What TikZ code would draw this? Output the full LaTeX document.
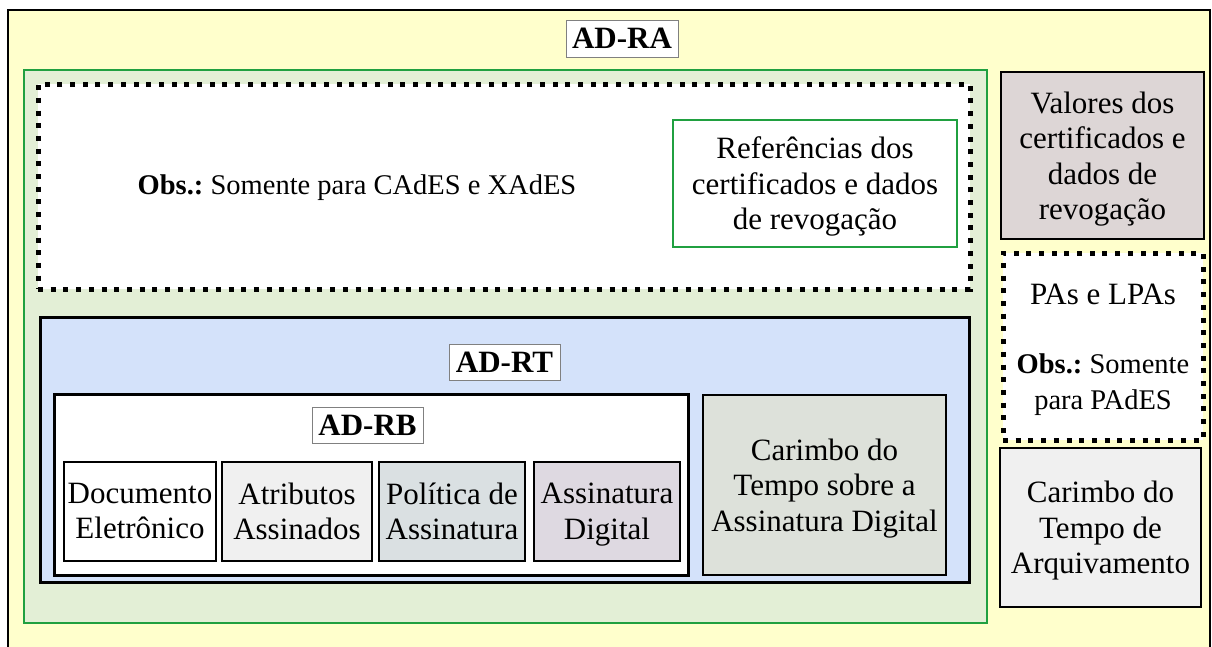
\documentclass[tikz,border=0pt]{standalone}
\usepackage{fontspec}
\setmainfont{Liberation Serif}
\frenchspacing
\definecolor{outerfill}{HTML}{FFFFCC}
\definecolor{greenfill}{HTML}{E3EFD6}
\definecolor{greenline}{HTML}{20A040}
\definecolor{bluefill}{HTML}{D4E2FA}
\definecolor{valfill}{HTML}{DDD6D6}
\definecolor{lightgray}{HTML}{F0F0F0}
\definecolor{polfill}{HTML}{DAE0E2}
\definecolor{assfill}{HTML}{DED9E1}
\definecolor{carfill}{HTML}{DDE1DA}
\definecolor{labline}{HTML}{808080}
\newcommand{\obsfont}{\fontsize{28.5}{33}\selectfont}
\tikzset{
  box/.style={draw, rectangle, inner sep=0pt, align=center, text depth=0pt, font=\fontsize{31}{35.5}\selectfont},
  dotbox/.style={box, line width=5pt, dash pattern=on 5pt off 7.7pt, fill=white},
  label box/.style={box, draw=labline, line width=1pt, fill=white, font=\fontsize{31}{35.5}\selectfont\bfseries},
}
\begin{document}
\begin{tikzpicture}[x=1pt,y=-1pt]
\useasboundingbox (0,0) rectangle (1212,646);
\node[box, line width=2.5pt, fill=outerfill, minimum width=1202pt, minimum height=650pt] (outer) at (609,335) {};
\node[label box, minimum width=112pt, minimum height=37pt] (adra) at (622,38.5) {AD-RA};
\node[box, draw=greenline, line width=2.5pt, fill=greenfill, minimum width=963pt, minimum height=553pt] (green) at (505.5,346.5) {};
\node[dotbox, minimum width=932pt, minimum height=205pt] (dotted) at (504,186.5) {};
\node[box, draw=none, text depth=, font=\obsfont] (obs) at (357,188) {\textbf{Obs.:} Somente para CAdES e XAdES};
\node[box, draw=greenline, line width=1.5pt, fill=white, minimum width=284pt, minimum height=127pt] (ref) at (815,183.5) {Referências dos\\certificados e dados\\de revogação};
\node[box, line width=2pt, fill=valfill, minimum width=203pt, minimum height=167pt] (val) at (1102.5,155.5) {Valores dos\\certificados e\\dados de\\revogação};
\node[dotbox, minimum width=200pt, minimum height=187pt] (pas) at (1103,346.5) {PAs e LPAs\\[34pt]\obsfont\textbf{Obs.:} Somente\\\obsfont para PAdES};
\node[box, line width=2pt, fill=lightgray, minimum width=201pt, minimum height=159pt] (arq) at (1100.5,527.5) {Carimbo do\\Tempo de\\Arquivamento};
\node[box, line width=3pt, fill=bluefill, minimum width=929pt, minimum height=265pt] (adrtbox) at (504.5,449.5) {};
\node[label box, minimum width=111pt, minimum height=36pt] (adrt) at (504.5,362.5) {AD-RT};
\node[box, line width=3pt, fill=white, minimum width=634pt, minimum height=181pt] (adrbbox) at (371,484.5) {};
\node[label box, minimum width=111pt, minimum height=36pt] (adrb) at (367.5,425) {AD-RB};
\node[box, line width=2pt, fill=white, minimum width=152pt, minimum height=99pt] (doc) at (140,511) {Documento\\Eletrônico};
\node[box, line width=2pt, fill=lightgray, minimum width=150pt, minimum height=99pt] (atr) at (297,511) {Atributos\\Assinados};
\node[box, line width=2pt, fill=polfill, minimum width=146pt, minimum height=99pt] (pol) at (452,511) {Política de\\Assinatura};
\node[box, line width=2pt, fill=assfill, minimum width=146pt, minimum height=99pt] (ass) at (607,511) {Assinatura\\Digital};
\node[box, line width=2pt, fill=carfill, minimum width=243pt, minimum height=180pt] (car) at (824.5,485) {Carimbo do\\Tempo sobre a\\Assinatura Digital};
\end{tikzpicture}
\end{document}
